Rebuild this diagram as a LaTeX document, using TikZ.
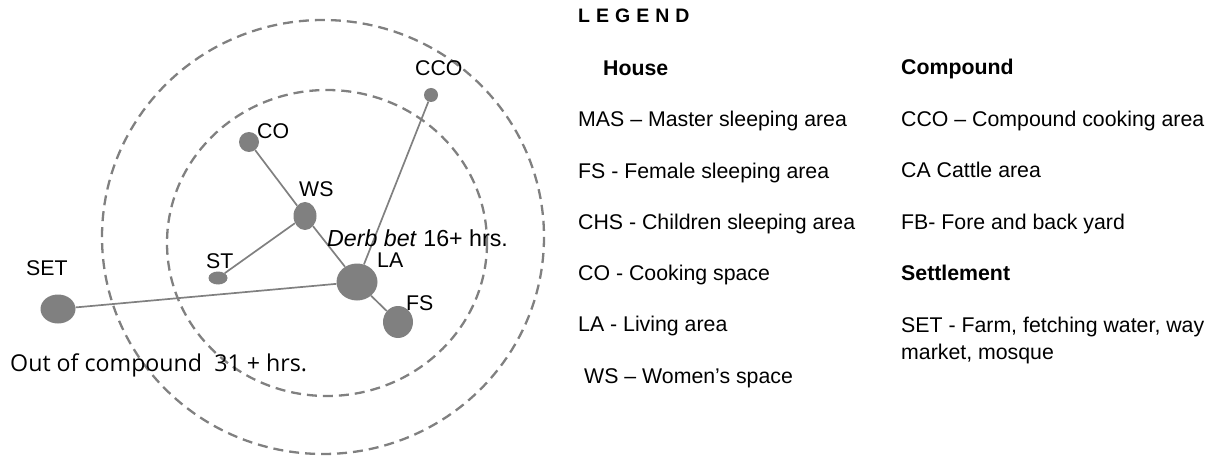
\documentclass[tikz,border=0pt]{standalone}
\usepackage{fontspec}
\setmainfont{Liberation Sans}
\newfontfamily\notefont{Open Sans}
\usetikzlibrary{shapes.geometric}
\definecolor{spotgray}{HTML}{808080}
\tikzset{
  zone/.style={spotgray, line width=2.3pt, dash pattern=on 10pt off 6pt},
  link/.style={spotgray, line width=1.7pt},
  spot/.style={ellipse, fill=spotgray, inner sep=0pt},
  lbl/.style={anchor=base west, inner sep=0pt},
}
\newcommand{\gap}{\hspace{6pt}}
\begin{document}
\begin{tikzpicture}[x=1pt,y=-1pt,font=\fontsize{21.3}{25}\selectfont]
    \useasboundingbox (0,0) rectangle (1221,457);
    % compound and house zones
    \draw [zone] (323,237) ellipse [x radius=221, y radius=217];
    \draw [zone] (327,243) ellipse [x radius=160, y radius=153];
    % activity spots
    \node [spot, minimum width=14pt, minimum height=14pt] (cco) at (431,95) {};
    \node [spot, minimum width=20pt, minimum height=20pt] (co) at (249,142) {};
    \node [spot, minimum width=23pt, minimum height=28pt] (ws) at (305,216) {};
    \node [spot, minimum width=19pt, minimum height=13pt] (st) at (218,278) {};
    \node [spot, minimum width=41pt, minimum height=37pt] (la) at (357,282) {};
    \node [spot, minimum width=30pt, minimum height=32pt] (fs) at (398,322) {};
    \node [spot, minimum width=35pt, minimum height=29pt] (settle) at (58,309) {};
    \draw [link] (co) -- (ws) -- (la);
    \draw [link] (ws) -- (st);
    \draw [link] (la) -- (fs);
    \draw [link] (la) -- (settle);
    \draw [link] (la) -- (cco);
    \node [lbl] (ccolbl) at (415,75.5) {CCO};
    \node [lbl] (colbl) at (257,138.5) {CO};
    \node [lbl] (wslbl) at (299,196.5) {WS};
    \node [lbl] (stlbl) at (206,268.5) {ST};
    \node [lbl] (setlbl) at (26,275.5) {SET};
    \node [lbl] (lalbl) at (377,268) {LA};
    \node [lbl] (fslbl) at (406,310.5) {FS};
    \node [lbl, font=\fontsize{23.2}{26}\selectfont] (inner) at (327,247) {\textit{Derb bet} 16+ hrs.};
    \node [lbl, font=\notefont\fontsize{23.2}{27}\selectfont] (outer) at (10,371.5) {Out of compound\ \ 31 + hrs.};
    % legend
    \node [lbl, font=\bfseries\fontsize{19.5}{22}\selectfont] (legend) at (578,23) {L\gap E\gap G\gap E\gap N\gap D};
    \node [lbl, font=\bfseries\fontsize{21.3}{25}\selectfont] (house) at (603,75.5) {House};
    \node [lbl] (mas) at (578,126.5) {MAS -- Master sleeping area};
    \node [lbl] (fsx) at (578,178.5) {FS - Female sleeping area};
    \node [lbl] (chs) at (578,229.5) {CHS - Children sleeping area};
    \node [lbl] (cox) at (578,280.5) {CO - Cooking space};
    \node [lbl] (lax) at (578,331.5) {LA - Living area};
    \node [lbl] (wsx) at (584,383.5) {WS -- Women’s space};
    \node [lbl, font=\bfseries\fontsize{21.3}{25}\selectfont] (compound) at (901,75) {Compound};
    \node [lbl] (ccox) at (901,126.5) {CCO -- Compound cooking area};
    \node [lbl] (ca) at (901,177.5) {CA Cattle area};
    \node [lbl] (fb) at (901,229.5) {FB- Fore and back yard};
    \node [lbl, font=\bfseries\fontsize{21.3}{25}\selectfont] (settlement) at (901,280) {Settlement};
    \node [lbl] (setx) at (901,332.5) {SET - Farm, fetching water, way};
    \node [lbl] (setx2) at (901,359.5) {market, mosque};
\end{tikzpicture}
\end{document}
